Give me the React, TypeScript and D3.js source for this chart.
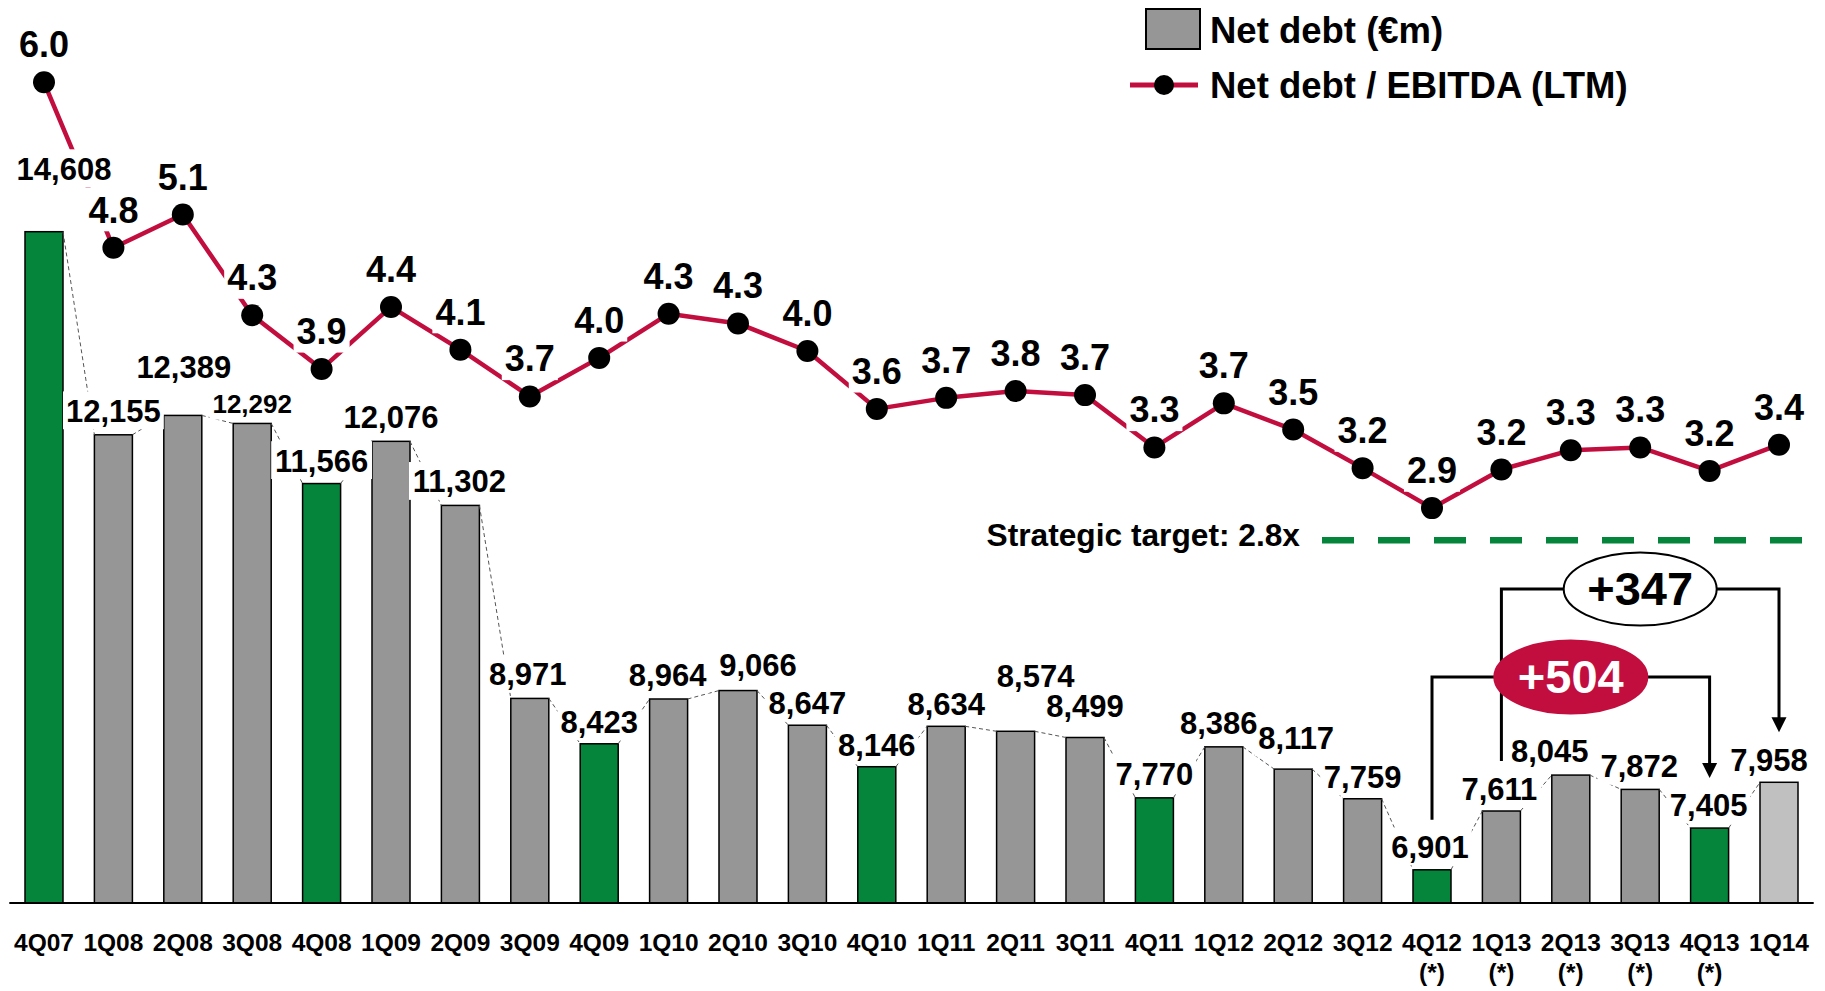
import React from "react";
import * as d3 from "d3";

const categories = ["4Q07","1Q08","2Q08","3Q08","4Q08","1Q09","2Q09","3Q09","4Q09","1Q10","2Q10","3Q10","4Q10","1Q11","2Q11","3Q11","4Q11","1Q12","2Q12","3Q12","4Q12","1Q13","2Q13","3Q13","4Q13","1Q14"];
const footnoteCategories = ["4Q12","1Q13","2Q13","3Q13","4Q13"];
const netDebt = [14608,12155,12389,12292,11566,12076,11302,8971,8423,8964,9066,8647,8146,8634,8574,8499,7770,8386,8117,7759,6901,7611,8045,7872,7405,7958];
const ratio = [6.0,4.80,5.04,4.31,3.92,4.37,4.06,3.72,4.00,4.32,4.25,4.05,3.63,3.71,3.76,3.73,3.35,3.67,3.48,3.20,2.91,3.19,3.33,3.35,3.18,3.37];
const ratioLabels = ["6.0","4.8","5.1","4.3","3.9","4.4","4.1","3.7","4.0","4.3","4.3","4.0","3.6","3.7","3.8","3.7","3.3","3.7","3.5","3.2","2.9","3.2","3.3","3.3","3.2","3.4"];
const greenCategories = ["4Q07","4Q08","4Q09","4Q10","4Q11","4Q12","4Q13"];
const latestCategory = "1Q14";
const targetValue = 2.8;
const targetLabel = "Strategic target: 2.8x";
const legendBar = "Net debt (€m)";
const legendLine = "Net debt / EBITDA (LTM)";
// comparisons: [from, to]
const changeShort = ["4Q12", "4Q13"];
const changeLong = ["1Q13", "1Q14"];

// label layout offsets (dx, baseline offset from bar top)
const barLabelDx = [20,0,1,0,0,0,-1,-2,0,-1,20,0,0,0,20,0,0,-5,3,0,-2,-2,-21,-1,-1,-10];
const barLabelDy = [-52,-13,-37,-10,-12,-13,-13,-13,-11,-13,-15,-11,-11,-11,-44,-20,-13,-13,-20,-11,-12,-11,-13,-12,-12,-11];

const W = 1825, H = 991;
const FONT = "'Liberation Sans', Arial, Helvetica, sans-serif";
const GRAY = "#969696", GREEN = "#05843b", LIGHT = "#c0c0c0", RED = "#c20e3f";

const fmt = d3.format(",");

function textWidth(s: string, fs: number) {
  let w = 0;
  for (const c of s) {
    if (/[0-9]/.test(c)) w += 0.556;
    else if (c === "," || c === ".") w += 0.278;
    else if (c === "+") w += 0.584;
    else w += 0.6;
  }
  return w * fs;
}

type Lab = { key: string; x: number; y: number; text: string; fs: number };

export default function App() {
  const x = d3.scaleBand<string>().domain(categories).range([9.3, 1813.7]).paddingInner(0.4524).paddingOuter(0.2262);
  const yBar = d3.scaleLinear().domain([6500, 14608]).range([903, 231.7]);
  const yLine = d3.scaleLinear().domain([2.5, 6.5]).range([564.6, 13.4]);
  const bw = x.bandwidth();
  const cx = (c: string) => (x(c) as number) + bw / 2;
  const baseY = yBar(6500);

  const line = d3.line<number>().x((_, i) => cx(categories[i])).y((d) => yLine(d));

  const fillFor = (c: string) => (greenCategories.includes(c) ? GREEN : c === latestCategory ? LIGHT : GRAY);

  const seriesLines = categories.slice(0, -1).map((c, i) => ({
    x1: (x(c) as number) + bw, y1: yBar(netDebt[i]),
    x2: x(categories[i + 1]) as number, y2: yBar(netDebt[i + 1]),
  }));

  const labels: Lab[] = [
    ...categories.map((c, i) => ({
      key: "b" + c, x: cx(c) + barLabelDx[i], y: yBar(netDebt[i]) + barLabelDy[i],
      text: fmt(netDebt[i]), fs: c === "3Q08" ? 26 : 31,
    })),
    ...categories.map((c, i) => ({
      key: "r" + c, x: cx(c), y: yLine(ratio[i]) - 25, text: ratioLabels[i], fs: 36,
    })),
  ];

  const valOf = (c: string) => netDebt[categories.indexOf(c)];

  const bracket = (pair: string[], yH: number, fill: string, stroke: string, txtColor: string) => {
    const xa = cx(pair[0]), xb = cx(pair[1]);
    const ya = yBar(valOf(pair[0])) - 50, yb = yBar(valOf(pair[1])) - 50;
    const mx = (xa + xb) / 2;
    const diff = valOf(pair[1]) - valOf(pair[0]);
    const txt = (diff >= 0 ? "+" : "") + fmt(diff);
    return (
      <g>
        <path d={`M${xa},${ya}V${yH}H${xb}V${yb - 14}`} fill="none" stroke="#000" strokeWidth={3} />
        <path d={`M${xb - 7.5},${yb - 15}L${xb + 7.5},${yb - 15}L${xb},${yb}Z`} fill="#000" />
        <ellipse cx={mx} cy={yH} rx={76.5} ry={36.5} fill={fill} stroke={stroke} strokeWidth={2} />
        <text x={mx} y={yH + 15.5} textAnchor="middle" fontSize={47} fontWeight="bold" fontFamily={FONT} fill={txtColor}>{txt}</text>
      </g>
    );
  };

  const targetY = yLine(targetValue) + 17;

  return (
    <div style={{ position: "absolute", left: 0, top: 0, width: W, height: H, background: "#fff" }}>
      <svg width={W} height={H} viewBox={`0 0 ${W} ${H}`} style={{ display: "block" }}>
        <rect width={W} height={H} fill="#fff" />
        {/* bars */}
        {categories.map((c, i) => (
          <rect key={c} x={x(c)} y={yBar(netDebt[i])} width={bw} height={baseY - yBar(netDebt[i])}
            fill={fillFor(c)} stroke="#000" strokeWidth={1.5} />
        ))}
        {/* series lines */}
        {seriesLines.map((s, i) => (
          <line key={i} x1={s.x1} y1={s.y1} x2={s.x2} y2={s.y2} stroke="#555" strokeWidth={1} strokeDasharray="4,3" />
        ))}
        {/* ratio line */}
        <path d={line(ratio) || ""} fill="none" stroke={RED} strokeWidth={4.5} strokeLinejoin="round" />
        {/* label backgrounds */}
        {labels.map((l) => {
          const w = textWidth(l.text, l.fs);
          return <rect key={"bg" + l.key} x={l.x - w / 2 - 3} y={l.y - l.fs * 0.98} width={w + 6} height={l.fs * 1.22} fill="#fff" />;
        })}
        {/* label texts */}
        {labels.map((l) => (
          <text key={"t" + l.key} x={l.x} y={l.y} textAnchor="middle" fontSize={l.fs} fontWeight="bold" fontFamily={FONT} fill="#000">{l.text}</text>
        ))}
        {/* dots */}
        {categories.map((c, i) => (
          <circle key={"d" + c} cx={cx(c)} cy={yLine(ratio[i])} r={11} fill="#000" />
        ))}
        {/* target */}
        <line x1={1322} x2={1803} y1={targetY} y2={targetY} stroke={GREEN} strokeWidth={6.5} strokeDasharray="32,24" />
        <text x={1300} y={targetY + 6} textAnchor="end" fontSize={31.7} fontWeight="bold" fontFamily={FONT}>{targetLabel}</text>
        {/* brackets */}
        {bracket(changeLong, 589, "#fff", "#000", "#000")}
        {bracket(changeShort, 677, RED, RED, "#fff")}
        {/* axis */}
        <line x1={x.range()[0]} x2={x.range()[1]} y1={baseY} y2={baseY} stroke="#000" strokeWidth={2} />
        {categories.map((c) => (
          <g key={"a" + c}>
            <text x={cx(c)} y={951} textAnchor="middle" fontSize={24.5} fontWeight="bold" fontFamily={FONT}>{c}</text>
            {footnoteCategories.includes(c) && (
              <text x={cx(c)} y={981} textAnchor="middle" fontSize={24.5} fontWeight="bold" fontFamily={FONT}>(*)</text>
            )}
          </g>
        ))}
        {/* legend */}
        <rect x={1146} y={9} width={54} height={40} fill={GRAY} stroke="#000" strokeWidth={2} />
        <text x={1210} y={43} fontSize={36.5} fontWeight="bold" fontFamily={FONT}>{legendBar}</text>
        <line x1={1130} x2={1198} y1={85} y2={85} stroke={RED} strokeWidth={5} />
        <circle cx={1164} cy={85} r={10} fill="#000" />
        <text x={1210} y={98} fontSize={36.5} fontWeight="bold" fontFamily={FONT}>{legendLine}</text>
      </svg>
    </div>
  );
}
